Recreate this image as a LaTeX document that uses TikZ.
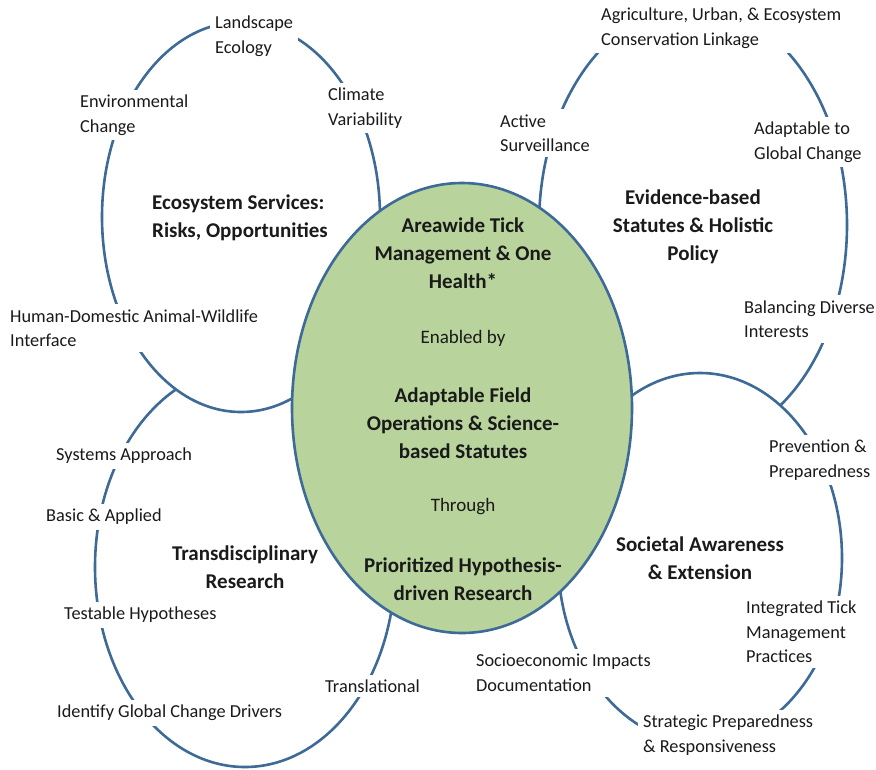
\documentclass[tikz,border=0pt]{standalone}
\usepackage{fontspec}
\setmainfont{Carlito}
\usepackage{tikz}
\usetikzlibrary{shapes.geometric,positioning}
\definecolor{RingBlue}{HTML}{3D6A97}
\definecolor{CoreGreen}{HTML}{B8D39B}
\definecolor{DarkText}{HTML}{1A1A1A}

\begin{document}
\begin{tikzpicture}[
  x=1pt,y=-1pt,
  ring/.style={
    draw=RingBlue,line width=2.6pt,fill=white,
    ellipse,inner sep=0pt
  },
  core/.style={ring,fill=CoreGreen},
  item/.style={
    fill=white,inner sep=5pt,align=left,anchor=west,
    text=DarkText,font=\fontsize{18.3}{24.5}\selectfont
  },
  title/.style={
    align=center,inner sep=0pt,text=DarkText,
    font=\fontsize{21}{28}\selectfont\bfseries
  },
  plain/.style={
    align=center,inner sep=0pt,text=DarkText,
    font=\fontsize{19}{24}\selectfont
  }
]
  \useasboundingbox (0,0) rectangle (876,769);

  % outer rings
  \node[ring,minimum width=300pt,minimum height=400pt] (research) at (245,567) {};
  \node[ring,minimum width=278pt,minimum height=390pt] (eco) at (241,217) {};
  \node[ring,minimum width=308pt,minimum height=438pt] (policy) at (693,225) {};
  \node[ring,minimum width=284pt,minimum height=370pt] (society) at (700,558) {};

  % centre
  \node[core,minimum width=340pt,minimum height=450pt] (core) at (462,408) {};

  \node[title] (goal) at (463,253) {Areawide Tick\\Management \& One\\Health*};
  \node[plain] (enabled) at (463,338) {Enabled by};
  \node[title] (means) at (463,423) {Adaptable Field\\Operations \& Science-\\based Statutes};
  \node[plain] (through) at (463,507) {Through};
  \node[title] (method) at (463,579) {Prioritized Hypothesis-\\driven Research};

  % ring titles
  \node[title,align=left,anchor=west] (ecoT) at (152,218) {Ecosystem Services:\\Risks, Opportunities};
  \node[title] (policyT) at (693,227) {Evidence-based\\Statutes \& Holistic\\Policy};
  \node[title] (societyT) at (700,558) {Societal Awareness\\\& Extension};
  \node[title] (researchT) at (245,567) {Transdisciplinary\\Research};

  % ecosystem items
  \node[item] (land) at (210,36) {Landscape\\Ecology};
  \node[item] (climate) at (323,108) {Climate\\Variability};
  \node[item] (envir) at (75,115) {Environmental\\Change};
  \node[item] (human) at (5,328) {Human-Domestic Animal-Wildlife\\Interface};

  % policy items
  \node[item] (agri) at (596,28) {Agriculture, Urban, \& Ecosystem\\Conservation Linkage};
  \node[item] (surv) at (495,133) {Active\\Surveillance};
  \node[item] (adapt) at (749,142) {Adaptable to\\Global Change};
  \node[item] (balance) at (739,319) {Balancing Diverse\\Interests};

  % society items
  \node[item] (prev) at (764,460) {Prevention \&\\Preparedness};
  \node[item] (itm) at (741,632) {Integrated Tick\\Management\\Practices};
  \node[item] (socio) at (471,673) {Socioeconomic Impacts\\Documentation};
  \node[item] (strat) at (638,735) {Strategic Preparedness\\\& Responsiveness};

  % research items
  \node[item] (sys) at (51,456) {Systems Approach};
  \node[item] (basic) at (41,517) {Basic \& Applied};
  \node[item] (test) at (59,615) {Testable Hypotheses};
  \node[item] (trans) at (320,686) {Translational};
  \node[item] (drivers) at (52,713) {Identify Global Change Drivers};
\end{tikzpicture}
\end{document}
